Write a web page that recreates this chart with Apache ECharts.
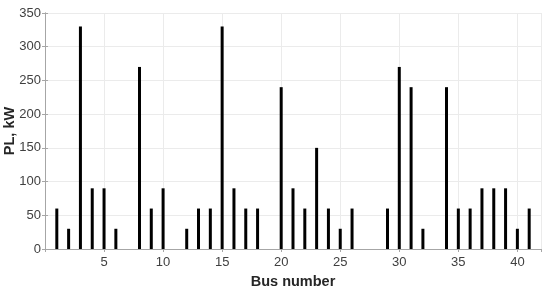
<!DOCTYPE html>
<html>
<head>
<meta charset="utf-8">
<script src="https://cdn.jsdelivr.net/npm/echarts@6/dist/echarts.min.js"></script>
<style>
  html, body { margin: 0; padding: 0; background: #fff; }
  #chart { width: 550px; height: 292px; }
</style>
</head>
<body>
<div id="chart"></div>
<script>
// bus numbers and load values (kW)
const busNumbers = [1, 2, 3, 4, 5, 6, 7, 8, 9, 10, 11, 12, 13, 14, 15, 16, 17, 18, 19, 20,
  21, 22, 23, 24, 25, 26, 27, 28, 29, 30, 31, 32, 33, 34, 35, 36, 37, 38, 39, 40, 41];
const loadKW = [60, 30, 330, 90, 90, 30, 0, 270, 60, 90, 0, 30, 60, 60, 330, 90, 60, 60, 0, 240,
  90, 60, 150, 60, 30, 60, 0, 0, 60, 270, 240, 30, 0, 240, 60, 60, 90, 90, 90, 30, 60];
const yTicks = [0, 50, 100, 150, 200, 250, 300, 350];

const chart = echarts.init(document.getElementById('chart'));

const fontFamily = 'Liberation Sans, Arial, sans-serif';
const boxColor = '#a6a6a6';
const gridColor = '#ebebeb';

const option = {
  animation: false,
  grid: { left: 45, right: 9, top: 13, bottom: 43, outerBoundsMode: 'none', containLabel: false },
  xAxis: [
    {
      type: 'value',
      min: 0,
      max: 42,
      interval: 5,
      name: 'Bus number',
      nameLocation: 'middle',
      nameGap: 25,
      nameMoveOverlap: false,
      nameTextStyle: { fontFamily, fontSize: 14.5, fontWeight: 'bold', color: '#262626' },
      axisLine: { show: true, lineStyle: { color: boxColor } },
      axisTick: { show: true, inside: true, length: 3, lineStyle: { color: boxColor } },
      axisLabel: {
        fontFamily, fontSize: 13, color: '#404040', margin: 7,
        showMinLabel: false, showMaxLabel: false,
        formatter: v => (v > 0 && v % 5 === 0 ? String(v) : '')
      },
      splitLine: { show: true, lineStyle: { color: gridColor } }
    },
    {
      type: 'value',
      position: 'top',
      min: 0,
      max: 42,
      interval: 5,
      axisLine: { show: true, lineStyle: { color: boxColor } },
      axisTick: { show: true, inside: true, length: 3, lineStyle: { color: boxColor } },
      axisLabel: { show: false },
      splitLine: { show: false }
    }
  ],
  yAxis: [
    {
      type: 'value',
      min: 0,
      max: 350,
      interval: 50,
      name: 'PL, kW',
      nameLocation: 'middle',
      nameGap: 28,
      nameMoveOverlap: false,
      nameTextStyle: { fontFamily, fontSize: 14.5, fontWeight: 'bold', color: '#262626' },
      axisLine: { show: true, lineStyle: { color: boxColor } },
      axisTick: { show: true, inside: true, length: 3, lineStyle: { color: boxColor } },
      axisLabel: {
        fontFamily, fontSize: 13, color: '#404040', margin: 4,
        formatter: v => (yTicks.includes(v) ? String(v) : '')
      },
      splitLine: { show: true, lineStyle: { color: gridColor } }
    },
    {
      type: 'value',
      position: 'right',
      min: 0,
      max: 350,
      interval: 50,
      axisLine: { show: true, lineStyle: { color: boxColor } },
      axisTick: { show: true, inside: true, length: 3, lineStyle: { color: boxColor } },
      axisLabel: { show: false },
      splitLine: { show: false }
    }
  ],
  series: [
    {
      type: 'bar',
      xAxisIndex: 0,
      yAxisIndex: 0,
      barWidth: 3,
      itemStyle: { color: '#000' },
      data: busNumbers.map((b, i) => [b, loadKW[i]])
    }
  ]
};

chart.setOption(option);
</script>
</body>
</html>
